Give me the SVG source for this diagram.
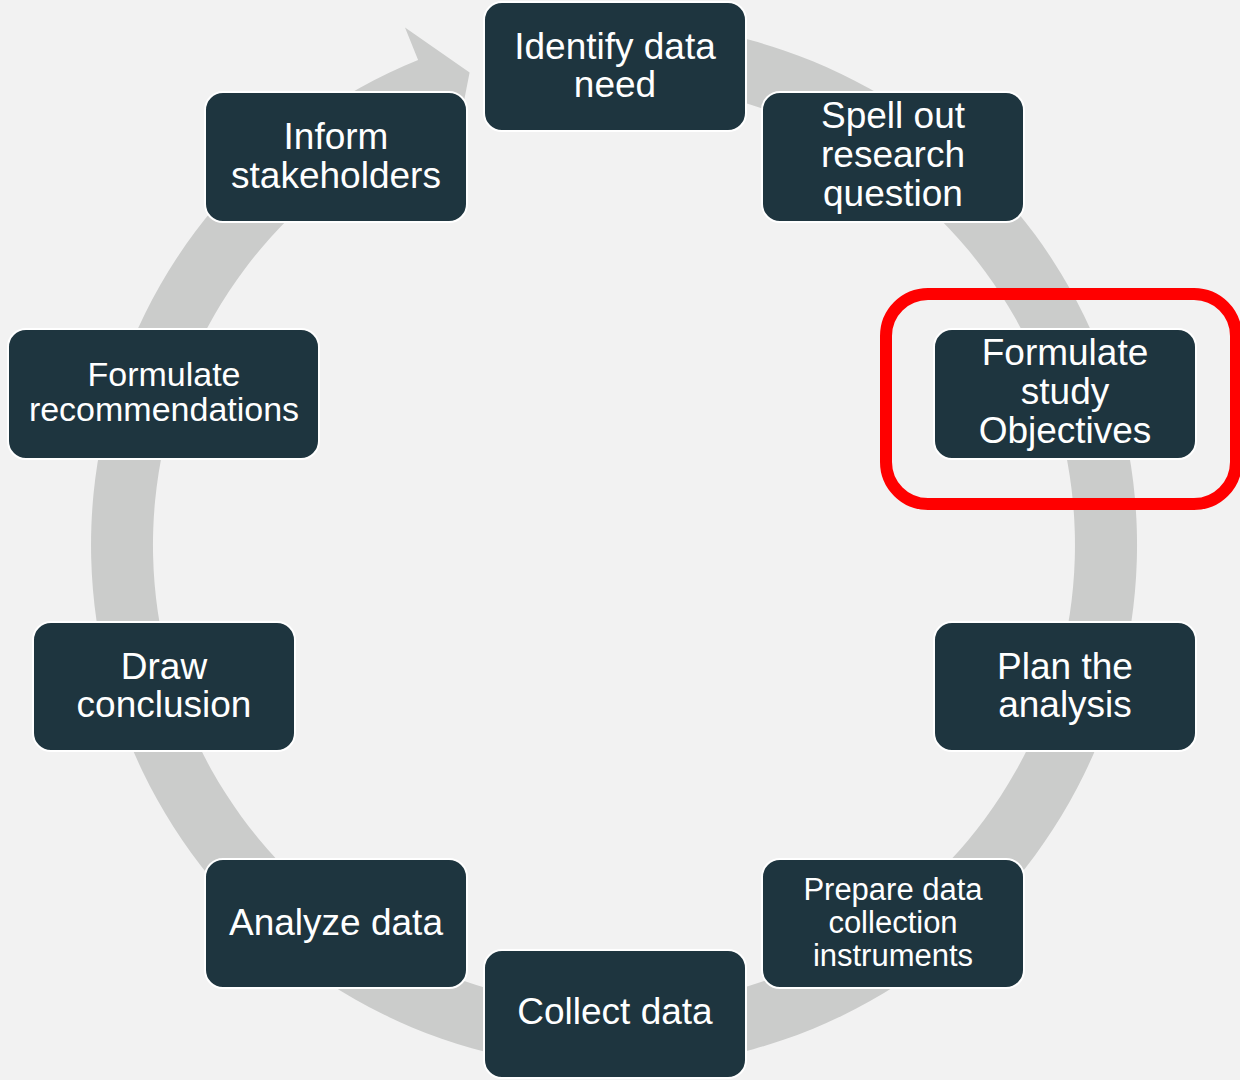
<svg xmlns="http://www.w3.org/2000/svg" width="1240" height="1080" viewBox="0 0 1240 1080">
<style>
.node rect{fill:#1e353f;stroke:#ffffff;stroke-width:2}
.node text{fill:#ffffff;font-family:"Liberation Sans",Arial,sans-serif;font-size:37px;text-anchor:middle}
.ring{fill:#cbcccb}
</style>
<rect x="0" y="0" width="1240" height="1080" fill="#f2f2f2"/>
<g id="connectors">
<path class="ring" d="M 659.6 24.0 A 523 523 0 1 1 418.1 60.1 L 405.0 27.6 L 469.6 72.6 L 454.4 150.0 L 441.3 117.6 A 461 461 0 1 0 654.2 85.8 Z"/>
</g>
<g id="n1" class="node"><rect x="484" y="2" width="262" height="129" rx="18"/><text x="615" y="59">Identify data</text><text x="615" y="97">need</text></g>
<g id="n2" class="node"><rect x="762" y="92" width="262" height="130" rx="18"/><text x="893" y="128">Spell out</text><text x="893" y="167">research</text><text x="893" y="206">question</text></g>
<g id="n3" class="node"><rect x="934" y="329" width="262" height="130" rx="18"/><text x="1065" y="365">Formulate</text><text x="1065" y="404">study</text><text x="1065" y="443">Objectives</text></g>
<g id="n4" class="node"><rect x="934" y="622" width="262" height="129" rx="18"/><text x="1065" y="679">Plan the</text><text x="1065" y="717">analysis</text></g>
<g id="n5" class="node"><rect x="762" y="859" width="262" height="129" rx="18"/><text x="893" y="900" style="font-size:31px">Prepare data</text><text x="893" y="933" style="font-size:31px">collection</text><text x="893" y="966" style="font-size:31px">instruments</text></g>
<g id="n6" class="node"><rect x="484" y="950" width="262" height="128" rx="18"/><text x="615" y="1024">Collect data</text></g>
<g id="n7" class="node"><rect x="205" y="859" width="262" height="129" rx="18"/><text x="336" y="935">Analyze data</text></g>
<g id="n8" class="node"><rect x="33" y="622" width="262" height="129" rx="18"/><text x="164" y="679">Draw</text><text x="164" y="717">conclusion</text></g>
<g id="n9" class="node"><rect x="8" y="329" width="311" height="130" rx="18"/><text x="164" y="386" style="font-size:34px">Formulate</text><text x="164" y="421" style="font-size:34px">recommendations</text></g>
<g id="n10" class="node"><rect x="205" y="92" width="262" height="130" rx="18"/><text x="336" y="149">Inform</text><text x="336" y="188">stakeholders</text></g>
<rect id="highlight" x="886" y="294" width="350" height="210" rx="42" fill="none" stroke="#ff0000" stroke-width="12"/>
</svg>
